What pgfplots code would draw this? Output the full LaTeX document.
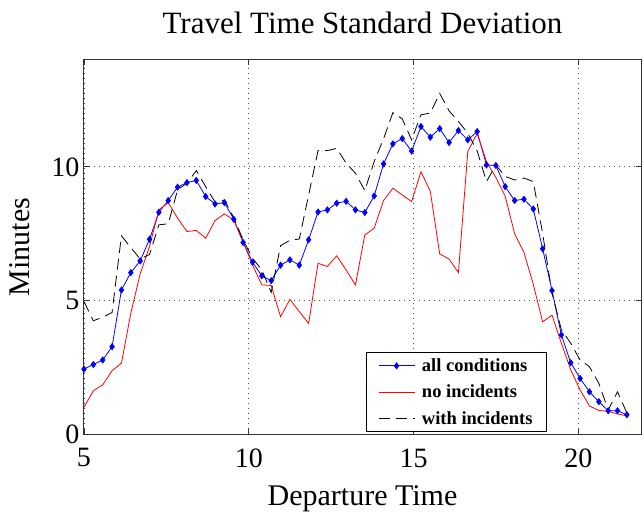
\documentclass[border=0pt]{standalone}
\usepackage{fontspec}
\setmainfont{Liberation Serif}
\usepackage{pgfplots}
\pgfplotsset{compat=1.18}
\usepackage{pgfplotstable}

% departure time (h), std dev (min): all conditions / no incidents / with incidents
\pgfplotstableread{
t      all    noinc  withinc
5.000  2.43   1.00   4.96
5.284  2.60   1.62   4.24
5.568  2.77   1.84   4.37
5.852  3.27   2.37   4.55
6.136  5.39   2.65   7.42
6.420  6.04   4.52   6.98
6.704  6.48   5.99   6.55
6.988  7.29   7.02   6.72
7.272  8.30   8.39   7.83
7.556  8.74   8.66   7.87
7.840  9.24   8.08   9.14
8.124  9.41   7.58   9.39
8.408  9.49   7.62   9.86
8.692  8.89   7.33   9.26
8.976  8.61   7.99   8.68
9.260  8.66   8.24   8.76
9.544  8.04   8.01   8.10
9.828  7.17   7.20   7.27
10.112 6.43   6.33   6.58
10.396 5.92   5.58   6.14
10.680 5.74   5.56   5.30
10.964 6.32   4.39   7.05
11.248 6.52   5.04   7.25
11.532 6.32   4.58   7.30
11.816 7.27   4.14   8.95
12.100 8.31   6.39   10.61
12.384 8.39   6.27   10.61
12.668 8.64   6.67   10.69
12.952 8.71   6.14   10.14
13.236 8.39   5.58   9.76
13.520 8.29   7.45   9.11
13.804 8.91   7.70   10.20
14.088 10.11  8.74   11.05
14.372 10.86  9.20   12.03
14.656 11.06  8.95   11.80
14.940 10.59  8.70   11.01
15.224 11.51  9.82   11.95
15.508 11.11  9.08   12.01
15.792 11.43  6.74   12.75
16.076 10.91  6.55   12.10
16.360 11.36  6.04   11.70
16.644 11.01  10.57  11.26
16.928 11.32  11.25  10.60
17.212 10.07  10.20  9.45
17.496 10.05  9.60   10.07
17.780 9.26   8.90   9.64
18.064 8.74   7.50   9.51
18.348 8.79   6.80   9.58
18.632 8.42   5.60   9.45
18.916 6.93   4.20   7.50
19.200 5.37   4.45   5.27
19.484 3.71   3.40   3.90
19.768 2.67   2.40   3.40
20.052 2.08   1.65   2.77
20.336 1.58   1.05   2.52
20.620 1.21   0.88   1.90
20.904 0.87   0.85   0.90
21.188 0.87   0.75   1.58
21.472 0.72   0.68   0.78
}\sdtable

\begin{document}
\begin{tikzpicture}
\begin{axis}[
    scale only axis,
    width=557pt, height=374pt,
    xmin=5, xmax=21.9,
    ymin=0, ymax=14,
    xtick={5,10,15,20},
    ytick={0,5,10},
    tick align=inside,
    tick pos=both,
    major tick length=5pt,
    axis line style={line width=1pt, black!80},
    every tick/.style={black!80, line width=0.8pt},
    grid=major,
    grid style={black!70, line width=0.8pt, dash pattern=on 1pt off 4pt},
    /pgf/number format/assume math mode=true,
    tick label style={font=\fontsize{28}{30}\selectfont},
    xticklabel style={yshift=-11pt},
    yticklabel style={xshift=-1pt},
    title={Travel Time Standard Deviation},
    title style={font=\fontsize{31}{34}\selectfont, yshift=17pt},
    xlabel={Departure Time},
    ylabel={Minutes},
    label style={font=\fontsize{30}{34}\selectfont},
    xlabel style={yshift=-11pt},
    ylabel style={yshift=15pt},
    legend cell align=left,
    legend style={at={(0.831,0.005)}, anchor=south east,
                  draw=black, line width=0.8pt, fill=white,
                  font=\fontsize{18.5}{22}\selectfont\bfseries,
                  inner xsep=12pt, inner ysep=4pt, row sep=8pt,
                  /tikz/every odd column/.append style={column sep=5pt}},
    legend image code/.code={%
        \draw[mark repeat=2, mark phase=2, #1]
            plot coordinates {(0pt,0pt) (18pt,0pt) (36pt,0pt)};},
]
\addplot[blue, line width=0.8pt, mark=diamond*, mark size=3pt,
         mark options={solid, fill=blue}] table[x=t, y=all] {\sdtable};
\addlegendentry{all conditions}
\addplot[red, line width=0.8pt] table[x=t, y=noinc] {\sdtable};
\addlegendentry{no incidents}
\addplot[black, line width=0.8pt, dash pattern=on 11pt off 6pt] table[x=t, y=withinc] {\sdtable};
\addlegendentry{with incidents}
\end{axis}
\pgfresetboundingbox
\path[use as bounding box] ([shift={(-84pt,-82pt)}]current axis.south west)
    rectangle ([shift={(560pt,434pt)}]current axis.south west);
\end{tikzpicture}
\end{document}
